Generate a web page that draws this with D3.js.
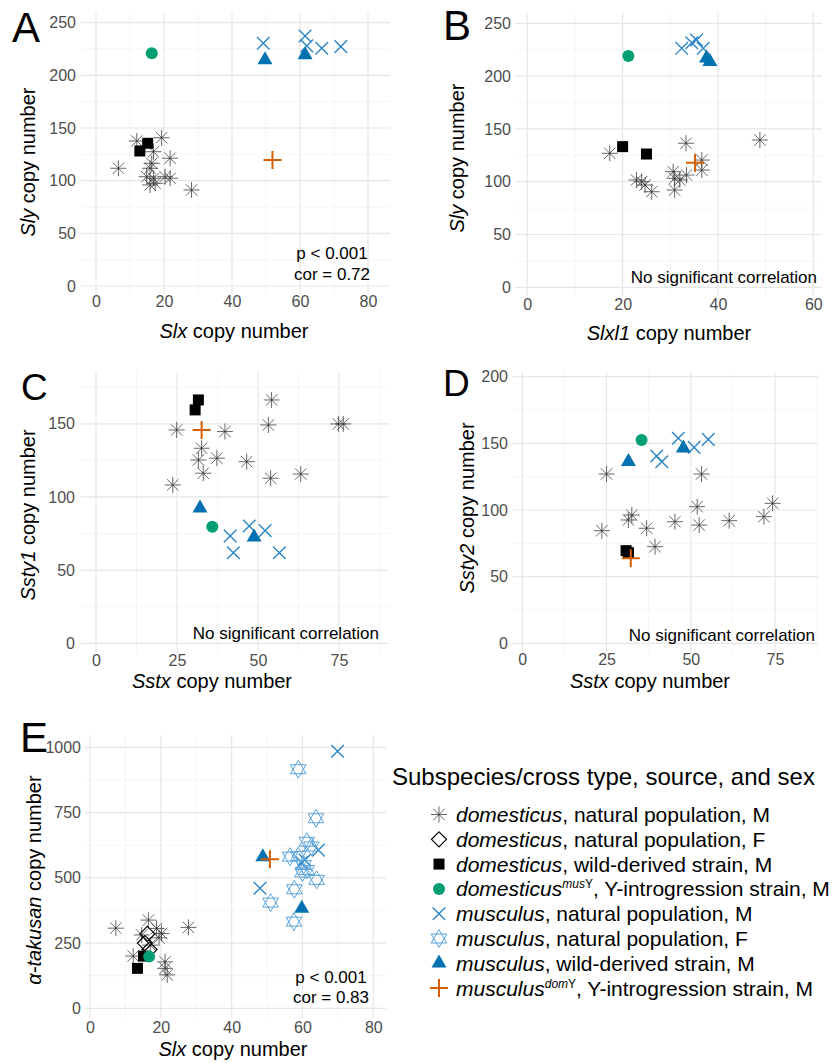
<!DOCTYPE html>
<html><head><meta charset="utf-8">
<script src="https://cdn.jsdelivr.net/npm/d3@7"></script>
<style>body{margin:0;background:#fff}svg{display:block;font-family:"Liberation Sans",Arial,sans-serif}</style>
</head><body><svg id="c" width="834" height="1063"></svg>
<script>
// ---------------- DATA ----------------
const groups = ["domNatM","domNatF","domWildM","domMusY","musNatM","musNatF","musWildM","musDomY"];
const legendSubspecies = ["domesticus","domesticus","domesticus","domesticus","musculus","musculus","musculus","musculus"];
const legendSup = ["","","","mus","","","","dom"];
const legendRest = [", natural population, M",", natural population, F",", wild-derived strain, M",", Y-introgression strain, M",", natural population, M",", natural population, F",", wild-derived strain, M",", Y-introgression strain, M"];
const legendTitle = "Subspecies/cross type, source, and sex";

// Panel A: Slx vs Sly
const A_domNatM = [[12.0,137.7],[19.3,140.8],[16.9,127.5],[21.8,121.3],[6.6,111.8],[15.9,111.8],[14.9,103.8],[16.9,102.3],[20.3,103.8],[21.8,102.3],[15.9,95.9],[17.4,97.5],[28.1,91.2],[16.4,116.5]];
const A_domWildM = [[12.9,128.2],[15.2,135.5]];
const A_domMusY = [[16.4,221]];
const A_musNatM = [[49.2,230.5],[61.5,237.4],[62,228],[66.4,225.7],[72,227.3]];
const A_musWildM = [[49.7,214.6],[61.5,219.4]];
const A_musDomY = [[51.9,119.7]];

// Panel B: Slxl1 vs Sly
const B_domNatM = [[17.3,126.9],[33.3,136.4],[36.6,120.5],[36.6,111],[22.9,101.6],[24.0,100],[24.7,96.9],[26.1,90.5],[30.6,109.5],[30.9,103.2],[32.0,101.6],[33.4,106.3],[30.9,92.1],[48.8,139.5]];
const B_domWildM = [[20,133.2],[25,126.2]];
const B_domMusY = [[21.2,219]];
const B_musNatM = [[32.4,226.3],[34.5,231.6],[35.5,234.2],[36.9,226.3]];
const B_musWildM = [[37.6,216.9],[38.3,213.6]];
const B_musDomY = [[35.2,118]];

// Panel C: Sstx vs Ssty1
const C_domNatM = [[24.9,145.8],[39.8,144.7],[54.2,166.3],[53.2,149.2],[74.8,149.9],[76.3,149.9],[32.6,133.3],[31.6,125.3],[37.3,126.5],[46.5,124.1],[33.1,116.2],[53.9,112.8],[63.2,115.7],[23.7,108.2]];
const C_domWildM = [[31.6,166.3],[30.6,159.5]];
const C_domMusY = [[35.9,79.7]];
const C_musNatM = [[41.4,73.3],[42.4,61.9],[47.3,80.2],[52.2,77],[56.6,61.9]];
const C_musWildM = [[32.1,92.3],[48.8,72.5]];
const C_musDomY = [[32.6,145.8]];

// Panel D: Sstx vs Ssty2
const D_domNatM = [[25,127],[53.2,127],[23.6,84.5],[32.5,96.2],[31.5,92.5],[36.9,86.3],[39.4,72.5],[45.3,91.2],[51.9,102.5],[52.5,88.7],[61.4,92],[71.7,95],[74.3,105]];
const D_domWildM = [[30.8,69.5],[31.5,68]];
const D_domMusY = [[35.4,152.5]];
const D_musNatM = [[39.9,140.5],[41.4,136.2],[46.3,153.8],[51,147],[55.2,153]];
const D_musWildM = [[31.5,136.2],[47.8,146.3]];
const D_musDomY = [[32.2,63.8]];

// Panel E: Slx vs alpha-takusan
const E_domNatM = [[7.3,307],[16.5,338],[18.8,306],[20.2,287],[14.6,281],[12.2,200],[21.2,178],[21.2,153],[21.8,128],[17.0,242],[27.8,310],[19.5,270]];
const E_domNatF = [[15.5,250],[16.2,285],[16.8,225]];
const E_domWildM = [[13.4,153],[15.1,200]];
const E_domMusY = [[16.7,198]];
const E_musNatM = [[69.9,985],[48.0,460],[64.5,606],[59.8,558],[60.7,568]];
const E_musNatF = [[58.8,916],[63.8,728],[61.2,638],[56.5,581],[58.8,583],[60.3,549],[61.2,530],[64.0,492],[57.7,456],[51.0,405],[57.6,332],[62.5,620],[60.0,520]];
const E_musWildM = [[48.8,580],[59.8,383]];
const E_musDomY = [[50.8,571]];

const xTicksA = [0,20,40,60,80], yTicksA = [0,50,100,150,200,250];
const xTicksB = [0,20,40,60],    yTicksB = [0,50,100,150,200,250];
const xTicksC = [0,25,50,75],    yTicksC = [0,50,100,150];
const xTicksD = [0,25,50,75],    yTicksD = [0,50,100,150,200];
const xTicksE = [0,20,40,60,80], yTicksE = [0,250,500,750,1000];

// ---------------- LAYOUT ----------------
const svg = d3.select("#c");
svg.append("rect").attr("width",834).attr("height",1063).attr("fill","#fff");

const panels = [
 {id:"A", rect:[81,13,390,295], xs:[[0,80],[96,368]], ys:[[0,250],[286,22.7]], xt:xTicksA, yt:yTicksA,
  xlabY:296, ylabX:76, letter:[12,42,42], xt1:"Slx", xt2:" copy number", xtPos:[234,338], yt1:"Sly", yt2:" copy number", ytPos:[28,162],
  data:{domNatM:A_domNatM, domWildM:A_domWildM, domMusY:A_domMusY, musNatM:A_musNatM, musWildM:A_musWildM, musDomY:A_musDomY},
  note:{type:"stat", x:332, y:[259,280], t:["p < 0.001","cor = 0.72"]}},
 {id:"B", rect:[515,13,822,295], xs:[[0,60],[527.3,813.3]], ys:[[0,250],[287.3,23.3]], xt:xTicksB, yt:yTicksB,
  xlabY:299, ylabX:511, letter:[443,40,42], xt1:"Slxl1", xt2:" copy number", xtPos:[669,340], yt1:"Sly", yt2:" copy number", ytPos:[457,158],
  data:{domNatM:B_domNatM, domWildM:B_domWildM, domMusY:B_domMusY, musNatM:B_musNatM, musWildM:B_musWildM, musDomY:B_musDomY},
  note:{type:"ns", x:817, y:283}},
 {id:"C", rect:[81,372,389,653], xs:[[0,75],[96,339]], ys:[[0,150],[643.3,423.8]], xt:xTicksC, yt:yTicksC,
  xlabY:654.5, ylabX:75, letter:[21,400,37], xt1:"Sstx", xt2:" copy number", xtPos:[212,688], yt1:"Ssty1", yt2:" copy number", ytPos:[28,515],
  data:{domNatM:C_domNatM, domWildM:C_domWildM, domMusY:C_domMusY, musNatM:C_musNatM, musWildM:C_musWildM, musDomY:C_musDomY},
  note:{type:"ns", x:379, y:639}},
 {id:"D", rect:[513,372,818,653], xs:[[0,75],[522.3,775]], ys:[[0,200],[643.3,376.7]], xt:xTicksD, yt:yTicksD,
  xlabY:653.5, ylabX:508, letter:[443,396,37], xt1:"Sstx", xt2:" copy number", xtPos:[650,688], yt1:"Ssty2", yt2:" copy number", ytPos:[467,508],
  data:{domNatM:D_domNatM, domWildM:D_domWildM, domMusY:D_domMusY, musNatM:D_musNatM, musWildM:D_musWildM, musDomY:D_musDomY},
  note:{type:"ns", x:815, y:641}},
 {id:"E", rect:[85,735,386,1018], xs:[[0,80],[90,373.3]], ys:[[0,1000],[1008.3,747.3]], xt:xTicksE, yt:yTicksE,
  xlabY:1021.5, ylabX:81, letter:[20,752,42], xt1:"Slx", xt2:" copy number", xtPos:[233,1056], yt1:"α-takusan", yt2:" copy number", ytPos:[34,880],
  data:{domNatM:E_domNatM, domNatF:E_domNatF, domWildM:E_domWildM, domMusY:E_domMusY, musNatM:E_musNatM, musNatF:E_musNatF, musWildM:E_musWildM, musDomY:E_musDomY},
  note:{type:"stat", x:331, y:[983,1003], t:["p < 0.001","cor = 0.83"]}}
];

// symbol definitions per group
const sym = {
 domNatM: {d:"M-8,0H8M0,-8V8M-5.7,-5.7L5.7,5.7M-5.7,5.7L5.7,-5.7", fill:"none", stroke:"#333", sw:1, op:0.75},
 domNatF: {d:"M0,-7.5L7.5,0L0,7.5L-7.5,0Z", fill:"none", stroke:"#000", sw:1.2, op:1},
 domWildM:{d:"M-5.5,-5.5H5.5V5.5H-5.5Z", fill:"#000", stroke:"none", sw:0, op:1},
 domMusY: {d:d3.symbol(d3.symbolCircle, Math.PI*36)(), fill:"#009E73", stroke:"none", sw:0, op:1},
 musNatM: {d:"M-6.3,-6.3L6.3,6.3M-6.3,6.3L6.3,-6.3", fill:"none", stroke:"#2a86c8", sw:1.4, op:1},
 musNatF: {d:"M0,-9L7.8,4.5L-7.8,4.5ZM0,9L7.8,-4.5L-7.8,-4.5Z", fill:"none", stroke:"#5aa3db", sw:1, op:1},
 musWildM:{d:"M0,-8.7L7.5,4.3L-7.5,4.3Z", fill:"#0072B2", stroke:"none", sw:0, op:1},
 musDomY: {d:"M-9,0H9M0,-9V9", fill:"none", stroke:"#D55E00", sw:2, op:1}
};
function drawSym(g, key, x, y){
  const s = sym[key];
  g.append("path").attr("d", s.d).attr("transform",`translate(${x},${y})`)
   .attr("fill", s.fill).attr("stroke", s.stroke).attr("stroke-width", s.sw).attr("opacity", s.op);
}

panels.forEach(p=>{
  const [l,t,r,b] = p.rect;
  const x = d3.scaleLinear().domain(p.xs[0]).range(p.xs[1]);
  const y = d3.scaleLinear().domain(p.ys[0]).range(p.ys[1]);
  const g = svg.append("g");
  const xStep = p.xt[1]-p.xt[0], yStep = p.yt[1]-p.yt[0];
  const xMinor = d3.range(p.xt[0]-xStep/2, p.xt[p.xt.length-1]+xStep, xStep).filter(v=>x(v)>=l && x(v)<=r);
  const yMinor = d3.range(p.yt[0]-yStep/2, p.yt[p.yt.length-1]+yStep, yStep).filter(v=>y(v)>=t && y(v)<=b);
  const grid = g.append("g");
  grid.selectAll(".mx").data(xMinor).join("line").attr("x1",d=>x(d)).attr("x2",d=>x(d)).attr("y1",t).attr("y2",b).attr("stroke","#f2f2f2").attr("stroke-width",0.8);
  grid.selectAll(".my").data(yMinor).join("line").attr("y1",d=>y(d)).attr("y2",d=>y(d)).attr("x1",l).attr("x2",r).attr("stroke","#f2f2f2").attr("stroke-width",0.8);
  grid.selectAll(".Mx").data(p.xt).join("line").attr("x1",d=>x(d)).attr("x2",d=>x(d)).attr("y1",t).attr("y2",b).attr("stroke","#e6e6e6").attr("stroke-width",1.2);
  grid.selectAll(".My").data(p.yt).join("line").attr("y1",d=>y(d)).attr("y2",d=>y(d)).attr("x1",l).attr("x2",r).attr("stroke","#e6e6e6").attr("stroke-width",1.2);

  // axes (tick labels only)
  const ax = g.append("g").attr("transform",`translate(0,${p.xlabY})`)
    .call(d3.axisBottom(x).tickValues(p.xt).tickSize(0).tickPadding(0).tickFormat(d3.format("d")));
  const ay = g.append("g").attr("transform",`translate(${p.ylabX},0)`)
    .call(d3.axisLeft(y).tickValues(p.yt).tickSize(0).tickPadding(0).tickFormat(d3.format("d")));
  [ax,ay].forEach(a=>{a.select(".domain").remove(); a.selectAll("text").attr("fill","#4d4d4d").attr("font-size",16).attr("font-family","Liberation Sans, Arial, sans-serif");});

  // points
  const pg = g.append("g");
  groups.forEach(k=>{
    (p.data[k]||[]).forEach(d=>drawSym(pg,k,x(d[0]),y(d[1])));
  });

  // axis titles
  const xtT = g.append("text").attr("x",p.xtPos[0]).attr("y",p.xtPos[1]).attr("text-anchor","middle").attr("font-size",20).attr("fill","#000");
  xtT.append("tspan").attr("font-style","italic").text(p.xt1);
  xtT.append("tspan").text(p.xt2);
  const ytT = g.append("text").attr("transform",`translate(${p.ytPos[0]+7},${p.ytPos[1]}) rotate(-90)`).attr("text-anchor","middle").attr("font-size",20).attr("fill","#000");
  ytT.append("tspan").attr("font-style","italic").text(p.yt1);
  ytT.append("tspan").text(p.yt2);

  // letter
  g.append("text").attr("x",p.letter[0]).attr("y",p.letter[1]).attr("font-size",p.letter[2]).attr("fill","#000").text(p.id);

  // note
  if(p.note.type==="stat"){
    p.note.t.forEach((s,i)=>g.append("text").attr("x",p.note.x).attr("y",p.note.y[i]).attr("text-anchor","middle").attr("font-size",17).attr("fill","#000").text(s));
  } else {
    g.append("text").attr("x",p.note.x).attr("y",p.note.y).attr("text-anchor","end").attr("font-size",17).attr("fill","#000").text("No significant correlation");
  }
});

// ---------------- LEGEND ----------------
const lg = svg.append("g");
lg.append("text").attr("x",392).attr("y",785).attr("font-size",24).attr("fill","#000").text(legendTitle);
groups.forEach((k,i)=>{
  const by = 822 + i*24.8;
  drawSym(lg,k,439,by-7.5);
  const t = lg.append("text").attr("x",456).attr("y",by).attr("font-size",21).attr("fill","#000");
  t.append("tspan").attr("font-style","italic").text(legendSubspecies[i]);
  if(legendSup[i]){
    t.append("tspan").attr("font-style","italic").attr("font-size",12).attr("dy",-8).text(legendSup[i]);
    t.append("tspan").attr("font-size",12).text("Y");
    t.append("tspan").attr("dy",8).text(legendRest[i]);
  } else {
    t.append("tspan").text(legendRest[i]);
  }
});
</script></body></html>
